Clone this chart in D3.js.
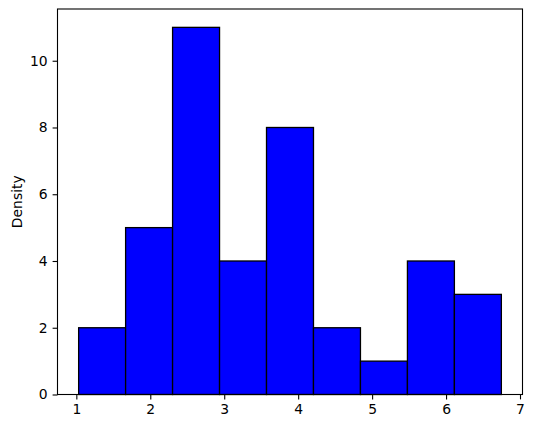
<!DOCTYPE html>
<html><head><meta charset="utf-8">
<script src="https://cdn.jsdelivr.net/npm/d3@7"></script>
<style>body{margin:0;background:#fff}svg{display:block}text{font-family:"DejaVu Sans",sans-serif}</style>
</head><body>
<script>
const binStart = 1.031;
const binEnd = 6.748;
const counts = [2, 5, 11, 4, 8, 2, 1, 4, 3];
const xTicks = [1, 2, 3, 4, 5, 6, 7];
const yTicks = [0, 2, 4, 6, 8, 10];

const W = 533, H = 428;
const m = {left: 57.5, right: 10.5, top: 9, bottom: 33.5};
const FS = 13.9;
const svg = d3.select("body").append("svg").attr("width", W).attr("height", H);
const span = binEnd - binStart;
const x = d3.scaleLinear().domain([binStart - span*0.05, binEnd + span*0.05]).range([m.left, W - m.right]);
const ymax = d3.max(counts) * 1.05;
const y = d3.scaleLinear().domain([0, ymax]).range([H - m.bottom, m.top]);
const bw = span / counts.length;
const bins = counts.map((c, i) => ({x0: binStart + i*bw, x1: binStart + (i+1)*bw, c}));

svg.append("g").selectAll("rect").data(bins).join("rect")
  .attr("x", d => x(d.x0)).attr("width", d => x(d.x1) - x(d.x0))
  .attr("y", d => y(d.c)).attr("height", d => y(0) - y(d.c))
  .attr("fill", "#0000ff").attr("stroke", "#000").attr("stroke-width", 1.3);

const xa = svg.append("g").attr("transform", `translate(0,${H - m.bottom})`)
  .call(d3.axisBottom(x).tickValues(xTicks).tickSize(4.9).tickPadding(4.9).tickFormat(d3.format("d")));
const ya = svg.append("g").attr("transform", `translate(${m.left},0)`)
  .call(d3.axisLeft(y).tickValues(yTicks).tickSize(4.9).tickPadding(4.9).tickFormat(d3.format("d")));
[xa, ya].forEach(a => {
  a.select(".domain").remove();
  a.selectAll("text").attr("font-size", FS).attr("fill", "#000").style("font-family", "DejaVu Sans");
  a.selectAll("line").attr("stroke", "#000").attr("stroke-width", 1.1);
});
svg.append("rect").attr("x", m.left).attr("y", m.top)
  .attr("width", W - m.left - m.right).attr("height", H - m.top - m.bottom)
  .attr("fill", "none").attr("stroke", "#000").attr("stroke-width", 1.1);
svg.append("text").attr("transform", `translate(22,${(m.top + H - m.bottom)/2}) rotate(-90)`)
  .attr("text-anchor", "middle").attr("font-size", FS).text("Density");
</script>
</body></html>
